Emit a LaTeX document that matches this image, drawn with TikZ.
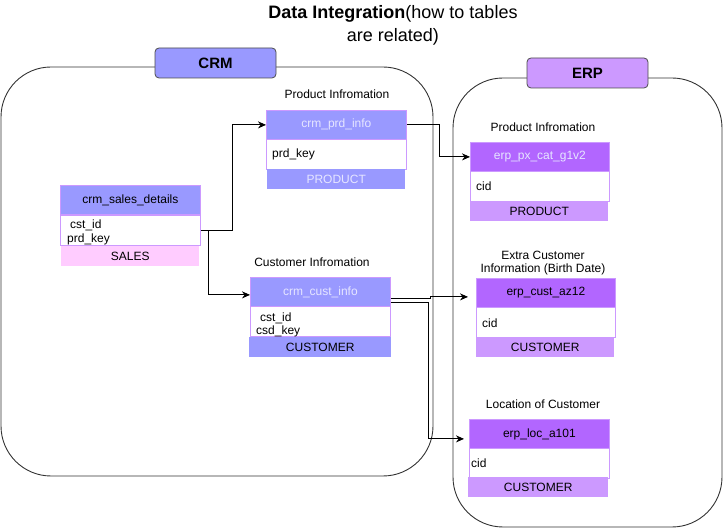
\documentclass[tikz,border=0pt]{standalone}
\usepackage{fontspec}
\setmainfont{Liberation Sans}
\usetikzlibrary{arrows.meta}
\definecolor{crmblue}{HTML}{9999FF}
\definecolor{erppurple}{HTML}{B266FF}
\definecolor{erplight}{HTML}{CC99FF}
\definecolor{salespink}{HTML}{FFCCFF}
\definecolor{tblborder}{HTML}{CC99FF}
\definecolor{palet}{HTML}{E6E6FF}
\begin{document}
\begin{tikzpicture}[x=1pt,y=-1pt,
  f12/.style={font=\fontsize{12}{13.5}\selectfont},
  hdr/.style={f12,draw=tblborder,line width=0.8pt,minimum width=140pt,minimum height=29pt,anchor=north west,inner sep=0pt},
  bodyb/.style={f12,draw=tblborder,line width=0.8pt,fill=white,minimum width=140pt,minimum height=30pt,anchor=north west,inner sep=0pt},
  foot/.style={f12,minimum width=138pt,minimum height=20pt,anchor=north west,inner sep=0pt},
  lbl/.style={f12,align=center,inner sep=0pt},
  cont/.style={draw=black!80,line width=0.9pt,rounded corners=50pt},
  tag/.style={draw=black!70,line width=0.8pt,rounded corners=4pt,minimum width=121pt,minimum height=30pt,font=\fontsize{15}{18}\selectfont\bfseries,inner sep=0pt},
  conn/.style={draw=black,line width=0.9pt,-{Stealth[length=8pt,width=7pt]}},
  txt/.style={f12,anchor=west,inner sep=0pt}
]
\useasboundingbox (0,0) rectangle (724,529);
% title
\node[align=center,font=\fontsize{18}{23}\selectfont] (title) at (393,25) {\textbf{Data Integration}(how to tables\\are related)};
% containers
\draw[cont] (1,67) rectangle (433,476);
\draw[cont] (453,78) rectangle (722,527);
\node[tag,fill=crmblue] (crmtag) at (215.5,63) {CRM};
\node[tag,fill=erplight] (erptag) at (587.5,73) {ERP};

% crm_sales_details
\node[hdr,fill=crmblue] (sales_h) at (60,185) {crm\_sales\_details};
\node[bodyb] (sales_b) at (60,215) {};
\node[txt] (sales_t1) at (70,225) {cst\_id};
\node[txt] (sales_t2) at (67,239) {prd\_key};
\node[foot,fill=salespink] (sales_f) at (61,246) {SALES};

% crm_prd_info
\node[lbl] (prd_l) at (337,94) {Product Infromation};
\node[hdr,fill=crmblue,text=palet] (prd_h) at (266,110) {crm\_prd\_info};
\node[bodyb] (prd_b) at (266,139) {};
\node[txt] (prd_t1) at (272,154) {prd\_key};
\node[foot,fill=crmblue,text=palet] (prd_f) at (267,169) {PRODUCT};

% crm_cust_info
\node[lbl] (cust_l) at (312,262) {Customer Infromation};
\node[hdr,fill=crmblue,text=palet] (cust_h) at (250,277) {crm\_cust\_info};
\node[bodyb] (cust_b) at (250,306) {};
\node[txt] (cust_t1) at (260,318) {cst\_id};
\node[txt] (cust_t2) at (256,331) {csd\_key};
\node[foot,fill=crmblue,minimum width=142pt] (cust_f) at (249,337) {CUSTOMER};

% erp_px_cat_g1v2
\node[lbl] (px_l) at (543,127) {Product Infromation};
\node[hdr,fill=erppurple,text=palet,minimum width=139pt] (px_h) at (470,142) {erp\_px\_cat\_g1v2};
\node[bodyb,minimum width=139pt] (px_b) at (470,171) {};
\node[txt] (px_t1) at (476,186) {cid};
\node[foot,fill=erplight] (px_f) at (470,201) {PRODUCT};

% erp_cust_az12
\node[lbl] (az_l) at (543,263) {Extra Customer\\Information (Birth Date)};
\node[hdr,fill=erppurple,minimum width=139pt] (az_h) at (476,278) {erp\_cust\_az12};
\node[bodyb,minimum width=139pt] (az_b) at (476,307) {};
\node[txt] (az_t1) at (482,323) {cid};
\node[foot,fill=erplight] (az_f) at (476,337) {CUSTOMER};

% erp_loc_a101
\node[lbl] (loc_l) at (543,404) {Location of Customer};
\node[hdr,fill=erppurple,minimum width=140pt] (loc_h) at (469,419) {erp\_loc\_a101};
\node[bodyb] (loc_b) at (469,448) {};
\node[txt] (loc_t1) at (471,463) {cid};
\node[foot,fill=erplight,minimum width=140pt] (loc_f) at (468,477) {CUSTOMER};

% connectors
\draw[conn] (sales_b.east) -- ++(32,0) |- (prd_h.west);
\draw[conn] (sales_b.east) -- ++(8,0) |- ([yshift=-3pt]cust_h.west);
\draw[conn] (prd_h.east) -- ++(33,0) |- (px_h.west);
\draw[conn] ([yshift=-7pt]cust_h.east) -- ++(40,0) |- ([xshift=-8pt,yshift=-4pt]az_h.west);
\draw[conn] ([yshift=-11pt]cust_h.east) -- ++(38,0) |- ([xshift=-5pt,yshift=-5pt]loc_h.west);
\end{tikzpicture}
\end{document}
